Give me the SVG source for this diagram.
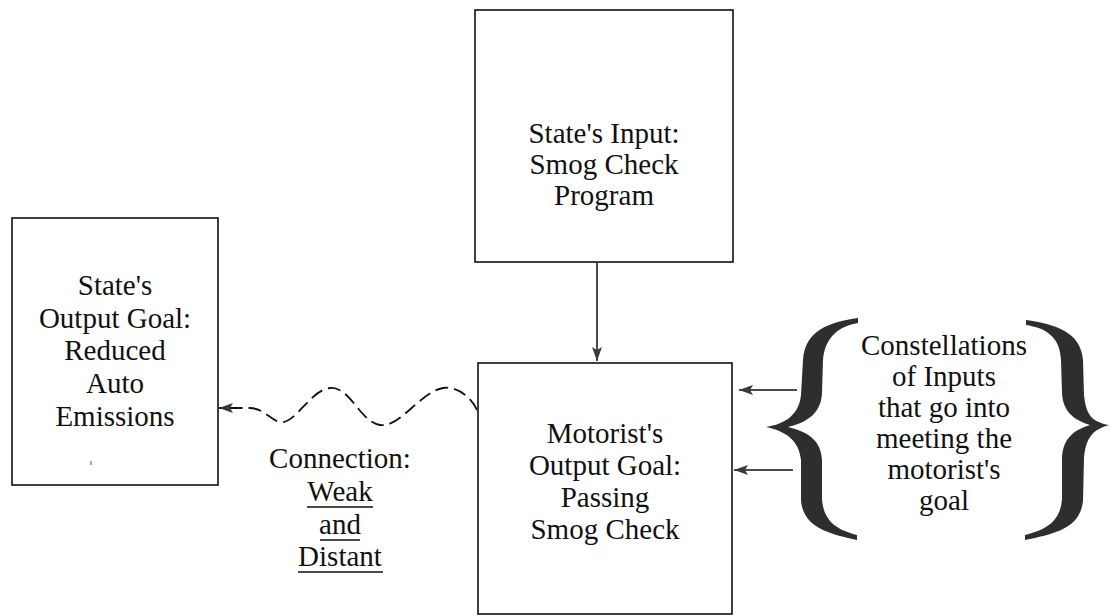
<svg xmlns="http://www.w3.org/2000/svg" width="1110" height="616" viewBox="0 0 1110 616">
  <style>
    .box { fill: #ffffff; stroke: #111111; stroke-width: 1.6; }
    .lbl { font-family: "Times New Roman", Times, "Liberation Serif", Tinos, "DejaVu Serif", serif; font-size: 29px; fill: #111111; text-anchor: middle; }
    .link { fill: none; stroke: #111111; stroke-width: 1.5; }
    .dash { stroke-dasharray: 13 6; stroke-width: 1.8; }
    .ul { stroke: #111111; stroke-width: 1.4; }
    .brace { fill: #2e2e2e; }
  </style>
  <defs>
    <marker id="head" markerUnits="userSpaceOnUse" markerWidth="16" markerHeight="12" refX="14" refY="5" orient="auto">
      <path d="M0,0 L14,5 L0,10 L3,5 Z" fill="#3a3a3a"/>
    </marker>
  </defs>
  <rect width="1110" height="616" fill="#ffffff"/>

  <!-- connectors -->
  <g id="connectors">
    <line class="link" x1="597" y1="263" x2="597" y2="361" marker-end="url(#head)"/>
    <line class="link" x1="797" y1="390" x2="739" y2="390" marker-end="url(#head)"/>
    <line class="link" x1="793" y1="470" x2="734" y2="470" marker-end="url(#head)"/>
    <path class="link dash" d="M477,410 C470,395 455,386 443,388 C420,392 400,428 380,425 C360,422 350,386 330,388 C310,390 295,425 280,422 C270,420 265,409 250,408 L219,408" marker-end="url(#head)"/>
  </g>

  <!-- State's Input -->
  <g id="state-input">
    <rect class="box" x="475" y="10" width="258" height="252"/>
    <text class="lbl" x="604" y="143">State's Input:</text>
    <text class="lbl" x="604" y="174">Smog Check</text>
    <text class="lbl" x="604" y="205">Program</text>
  </g>

  <!-- State's Output Goal -->
  <g id="state-goal">
    <rect class="box" x="12" y="218" width="206" height="267"/>
    <text class="lbl" x="115" y="295">State's</text>
    <text class="lbl" x="115" y="328">Output Goal:</text>
    <text class="lbl" x="115" y="360">Reduced</text>
    <text class="lbl" x="115" y="393">Auto</text>
    <text class="lbl" x="115" y="426">Emissions</text>
    <line x1="91" y1="461" x2="91" y2="465" stroke="#555555" stroke-width="1"/>
  </g>

  <!-- Motorist's Output Goal -->
  <g id="motorist-goal">
    <rect class="box" x="478" y="363" width="254" height="251"/>
    <text class="lbl" x="605" y="443">Motorist's</text>
    <text class="lbl" x="605" y="475">Output Goal:</text>
    <text class="lbl" x="605" y="507">Passing</text>
    <text class="lbl" x="605" y="539">Smog Check</text>
  </g>

  <!-- connection label -->
  <g id="connection-label">
    <text class="lbl" x="340" y="468">Connection:</text>
    <text class="lbl" x="340" y="501">Weak</text>
    <line class="ul" x1="307" y1="507" x2="373" y2="507"/>
    <text class="lbl" x="340" y="534">and</text>
    <line class="ul" x1="320" y1="540" x2="360" y2="540"/>
    <text class="lbl" x="340" y="566">Distant</text>
    <line class="ul" x1="298" y1="572" x2="383" y2="572"/>
  </g>

  <!-- constellation of inputs -->
  <g id="inputs">
    <path class="brace" d="M858,318 C830,322 805,330 803,360 L801,395 C799,415 785,424 766,427 C785,431 799,440 801,460 L801,500 C803,528 830,534 857,540 L857,535 C838,530 823,522 822,498 L822,460 C821,440 808,432 788,427 C808,422 821,413 822,393 L823,360 C825,336 840,326 858,323 Z"/>
    <path class="brace" d="M1026,320 C1055,324 1081,332 1083,360 L1084,395 C1086,415 1092,422 1109,425 C1092,430 1086,438 1084,458 L1083,500 C1081,528 1055,534 1025,540 L1025,535 C1045,530 1061,522 1062,498 L1062,458 C1063,438 1074,430 1090,425 C1074,420 1063,412 1062,393 L1061,360 C1060,336 1045,328 1026,325 Z"/>
    <text class="lbl" x="944" y="355">Constellations</text>
    <text class="lbl" x="944" y="386">of Inputs</text>
    <text class="lbl" x="944" y="417">that go into</text>
    <text class="lbl" x="944" y="448">meeting the</text>
    <text class="lbl" x="944" y="479">motorist's</text>
    <text class="lbl" x="944" y="510">goal</text>
  </g>
</svg>
